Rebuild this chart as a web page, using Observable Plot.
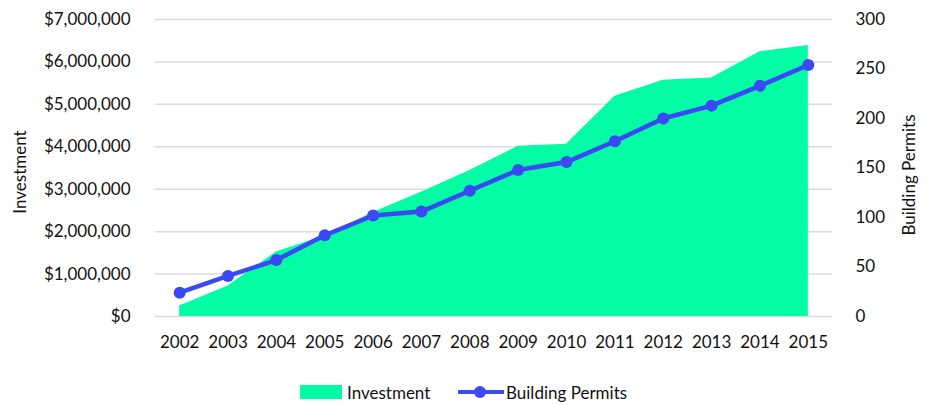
<!DOCTYPE html>
<html>
<head>
<meta charset="utf-8">
<script src="https://cdn.jsdelivr.net/npm/d3@7"></script>
<script src="https://cdn.jsdelivr.net/npm/@observablehq/plot@0.6"></script>
<style>
  html, body { margin: 0; padding: 0; background: #fff; }
  body { width: 935px; height: 405px; overflow: hidden; font-family: Lato, "Open Sans", sans-serif; }
  #chart svg { display: block; }
  #legend { position: relative; height: 35px; font-size: 17px; color: #111; }
  #legend .item { position: absolute; top: 12px; display: flex; align-items: center; height: 20px; }
</style>
</head>
<body>
<div id="chart"></div>
<div id="legend"></div>
<script>
const years = [2002, 2003, 2004, 2005, 2006, 2007, 2008, 2009, 2010, 2011, 2012, 2013, 2014, 2015];
const investment = [250000, 720000, 1520000, 1900000, 2450000, 2930000, 3440000, 4010000, 4060000, 5190000, 5570000, 5620000, 6240000, 6390000];
const permits = [24, 41, 57, 82, 102, 106, 127, 148, 156, 177, 200, 213, 233, 254];
const investmentTicks = [0, 1000000, 2000000, 3000000, 4000000, 5000000, 6000000, 7000000];
const permitTicks = [0, 50, 100, 150, 200, 250, 300];
const seriesNames = ["Investment", "Building Permits"];

const GREEN = "#03fca4";
const BLUE = "#3b48f4";
const K = 7000000 / 300; // permits -> investment axis units

const data = years.map((y, i) => ({year: y, investment: investment[i], permits: permits[i], permitsScaled: permits[i] * K}));
const fmtMoney = d => "$" + d3.format(",")(d);

const chart = Plot.plot({
  width: 935,
  height: 370,
  marginLeft: 155,
  marginRight: 103,
  marginTop: 19,
  marginBottom: 54,
  style: {fontFamily: "Lato, 'Open Sans', sans-serif", fontSize: "17px", color: "#111"},
  x: {domain: [2001.5, 2015.5]},
  y: {domain: [0, 7000000]},
  marks: [
    Plot.ruleY(investmentTicks, {stroke: "#dcdcdc", strokeWidth: 1.5}),
    Plot.areaY(data, {x: "year", y: "investment", fill: GREEN}),
    Plot.line(data, {x: "year", y: "permitsScaled", stroke: BLUE, strokeWidth: 4.5}),
    Plot.dot(data, {x: "year", y: "permitsScaled", r: 6, fill: BLUE}),
    Plot.axisX({ticks: years, tickFormat: d => String(d), tickSize: 0, tickPadding: 19, label: null}),
    Plot.axisY({anchor: "left", ticks: investmentTicks, tickFormat: fmtMoney, tickSize: 0, tickPadding: 25, label: null}),
    Plot.axisY({anchor: "right", ticks: permitTicks.map(v => v * K), tickFormat: d => String(Math.round(d / K)), tickSize: 0, tickPadding: 23, label: null}),
    Plot.text([seriesNames[0]], {frameAnchor: "left", textAnchor: "middle", dx: -135, dy: 4, rotate: -90, text: d => d, fontSize: 17, fill: "#111"}),
    Plot.text([seriesNames[1]], {frameAnchor: "right", textAnchor: "middle", dx: 77, dy: 7, rotate: -90, text: d => d, fontSize: 17, fill: "#111"})
  ]
});
document.getElementById("chart").appendChild(chart);

const legend = document.getElementById("legend");
legend.innerHTML = `
  <div class="item" style="left:300px">
    <span style="display:inline-block;width:42px;height:14px;background:${GREEN}"></span>
    <span style="margin-left:5px">${seriesNames[0]}</span>
  </div>
  <div class="item" style="left:458px">
    <svg width="46" height="14" style="display:block"><line x1="0" y1="7" x2="46" y2="7" stroke="${BLUE}" stroke-width="4"/><circle cx="22" cy="7" r="6" fill="${BLUE}"/></svg>
    <span style="margin-left:2px">${seriesNames[1]}</span>
  </div>`;
</script>
</body>
</html>
